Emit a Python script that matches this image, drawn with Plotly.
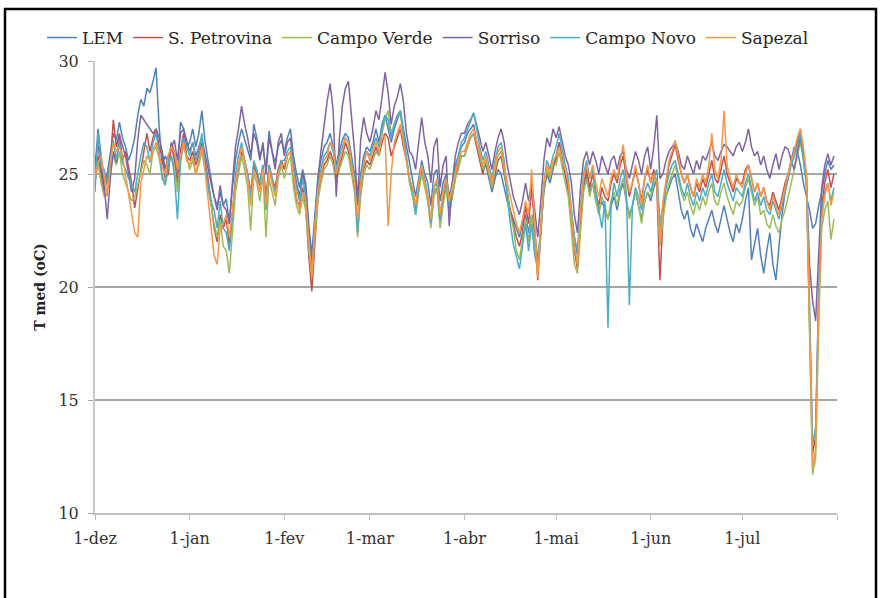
import pandas as pd
import plotly.graph_objects as go

START = "2012-12-01"

lem = [
    25.2, 27.0, 25.8, 24.6, 25.0, 26.0, 26.8, 26.5, 27.3, 26.6, 26.2, 25.6, 26.0, 26.6, 27.6, 28.3, 28.0, 28.8, 28.6, 29.1, 29.7, 27.1, 25.4, 25.8, 25.5, 26.4, 26.0, 25.0, 27.3, 27.0, 26.2,
    26.4, 27.0, 26.2, 26.8, 27.8, 26.5, 25.6, 24.8, 24.0, 23.6, 24.2, 23.6, 23.9, 22.8, 24.4, 25.6, 26.4, 27.0, 26.5, 26.0, 25.6, 27.2, 26.6, 25.8, 26.2, 25.2, 26.9, 26.0, 25.5, 26.2, 26.5,
    26.0, 26.6, 27.0, 25.8, 25.0, 24.4, 25.2, 24.6, 22.8, 21.4, 23.2, 24.8, 25.6, 26.2, 26.4, 26.8, 26.2, 25.4, 26.0, 26.5, 26.8, 26.6, 25.8, 25.0, 23.6, 25.0, 25.8, 26.2,
    26.0, 26.4, 27.0, 26.4, 27.2, 27.6, 27.0, 26.4, 27.0, 27.4, 27.8, 27.0, 26.2, 25.4, 24.8, 24.0, 24.8, 25.6, 25.0, 24.6, 23.6, 25.0, 25.2, 23.8, 24.6, 25.0, 24.0, 24.6, 25.4, 25.8, 26.2,
    26.4, 26.8, 27.0, 27.2, 26.4, 25.8, 25.2, 25.4, 24.8, 24.2, 24.8, 25.2, 25.0, 24.4, 23.8, 23.4, 23.0, 22.6, 22.2, 22.8, 23.2, 22.4, 23.2, 22.4, 21.2, 22.6, 24.2, 25.0, 24.6, 25.2,
    25.8, 26.4, 25.6, 25.0, 24.2, 23.4, 22.2, 21.4, 23.2, 24.4, 25.0, 24.2, 24.6, 23.8, 23.4, 23.8, 23.4, 23.0, 23.6, 24.0, 23.4, 24.2, 24.6, 23.8, 23.2, 23.6, 24.2, 23.6, 23.0, 23.8, 24.2,
    23.8, 24.4, 24.8, 22.6, 23.2, 24.0, 24.4, 24.8, 25.0, 24.2, 23.4, 23.0, 23.4, 22.6, 22.2, 22.8, 22.4, 22.0, 22.6, 23.0, 23.4, 22.8, 22.4, 23.0, 23.6, 23.0, 22.4, 22.0, 22.8, 22.4,
    23.0, 23.8, 24.4, 21.2, 22.0, 22.6, 21.4, 20.6, 21.6, 22.4, 21.0, 20.3, 21.8, 23.2, 24.2, 24.8, 25.6, 26.2, 26.0, 25.4, 24.6, 24.0, 23.4, 22.6, 22.8, 23.6, 24.2, 25.0, 25.6, 25.2, 25.4,
]

s_petrovina = [
    24.6, 25.8, 25.0, 24.2, 24.8, 25.4, 27.4, 26.2, 26.8, 25.6, 26.0, 25.2, 24.6, 23.5, 24.4, 25.3, 26.0, 26.8, 26.0, 26.6, 27.0, 26.2, 25.8, 24.8, 25.0, 26.3, 25.6, 24.6, 26.0, 26.8, 25.8,
    25.6, 26.0, 25.4, 25.8, 26.4, 25.6, 24.8, 23.8, 22.6, 22.0, 23.2, 22.6, 23.0, 21.8, 23.2, 24.6, 25.2, 26.0, 25.6, 25.0, 24.2, 25.4, 25.0, 24.5, 25.4, 24.0, 25.4, 24.8, 24.4, 25.2, 25.6,
    25.2, 25.8, 26.0, 24.8, 23.8, 23.6, 24.4, 23.6, 21.4, 19.8, 22.0, 24.0, 24.8, 25.4, 25.6, 26.0, 25.6, 24.8, 25.4, 25.8, 26.4, 26.0, 25.2, 24.4, 22.8, 24.4, 25.2, 25.6,
    25.4, 25.8, 26.2, 25.8, 26.4, 26.8, 26.6, 25.8, 26.2, 26.6, 27.0, 26.2, 25.6, 24.8, 24.2, 23.4, 24.4, 25.2, 24.6, 23.8, 22.8, 24.2, 24.4, 22.8, 23.8, 24.6, 23.4, 24.0, 24.8, 25.4, 25.8,
    25.8, 26.2, 26.6, 26.8, 26.2, 25.6, 25.0, 25.6, 25.0, 24.4, 25.0, 25.6, 25.8, 25.0, 24.2, 23.4, 22.8, 22.2, 21.8, 22.4, 23.6, 22.8, 24.4, 22.6, 20.3, 22.6, 24.4, 25.2, 24.8, 25.4,
    25.6, 26.4, 25.6, 25.0, 24.4, 23.0, 21.6, 20.8, 23.0, 24.6, 25.2, 24.4, 25.0, 24.2, 23.6, 24.4, 24.0, 23.8, 24.6, 25.0, 24.6, 25.4, 25.8, 24.8, 24.0, 24.6, 25.2, 24.6, 23.8, 24.8, 25.2,
    24.6, 25.2, 24.4, 20.3, 23.0, 24.6, 25.4, 25.8, 26.3, 25.6, 25.0, 24.6, 25.0, 24.4, 24.0, 24.6, 24.2, 24.8, 24.4, 25.0, 25.6, 24.8, 24.6, 25.2, 25.8, 25.0, 24.6, 24.2, 24.8, 24.6,
    24.6, 25.2, 25.4, 24.8, 24.2, 24.6, 24.0, 24.4, 23.8, 23.6, 24.2, 23.8, 23.4, 24.0, 24.6, 25.0, 25.6, 26.0, 26.4, 27.0, 26.0, 24.8, 18.6, 12.6, 13.4, 19.6, 23.6, 24.6, 25.2, 24.4, 25.0,
]

campo_verde = [
    24.8, 25.5, 24.6, 24.0, 24.2, 25.2, 25.8, 25.4, 26.0, 25.0, 24.6, 24.2, 23.8, 24.0, 24.5, 25.0, 25.6, 25.4, 25.0, 26.0, 26.2, 25.7, 25.0, 24.6, 25.4, 25.8, 25.3, 24.2, 25.6, 26.2, 25.8,
    25.2, 25.6, 25.0, 25.4, 26.0, 25.2, 24.4, 23.5, 22.8, 22.2, 23.0, 21.8, 21.6, 20.6, 22.6, 24.2, 25.0, 25.8, 25.2, 24.4, 22.5, 25.0, 24.6, 23.8, 25.0, 22.2, 24.8, 24.2, 23.6, 24.8, 25.4,
    24.8, 25.4, 25.8, 24.4, 23.6, 23.2, 24.0, 23.4, 21.6, 20.6, 22.2, 23.8, 24.6, 25.2, 25.4, 25.8, 25.4, 24.6, 25.2, 25.6, 26.0, 25.8, 25.0, 24.2, 22.2, 24.0, 25.0, 25.4,
    25.2, 25.6, 26.0, 25.8, 26.8, 27.4, 27.8, 26.8, 27.2, 27.6, 27.6, 26.8, 25.6, 24.6, 24.0, 23.2, 24.2, 25.0, 24.4, 23.8, 22.6, 24.0, 24.4, 22.6, 23.6, 24.4, 23.2, 24.0, 24.8, 25.2, 25.8,
    25.8, 26.2, 26.6, 26.8, 26.4, 25.8, 25.2, 25.6, 25.0, 24.4, 25.2, 25.8, 26.0, 25.2, 24.2, 23.2, 22.6, 21.6, 21.2, 22.2, 23.0, 22.0, 23.2, 21.8, 20.6, 22.4, 24.4, 25.2, 24.8, 25.4,
    25.4, 26.0, 25.2, 24.6, 24.0, 22.6, 21.0, 20.6, 22.6, 24.2, 24.8, 24.0, 24.6, 23.8, 23.2, 24.0, 23.6, 23.0, 23.8, 24.2, 23.6, 24.4, 24.8, 23.8, 23.0, 23.6, 24.2, 23.6, 22.8, 23.8, 24.2,
    24.0, 24.6, 24.8, 21.8, 23.0, 24.0, 24.6, 25.0, 25.4, 24.8, 24.2, 23.8, 24.2, 23.6, 23.2, 23.8, 23.4, 24.0, 23.6, 24.2, 24.6, 23.8, 23.6, 24.2, 24.6, 24.0, 23.6, 23.2, 23.8, 23.6,
    23.8, 24.4, 24.8, 24.2, 23.6, 24.0, 23.2, 23.4, 22.8, 22.6, 23.2, 22.7, 22.4, 23.0, 23.4, 24.0, 24.6, 25.2, 25.8, 26.4, 25.6, 24.4, 18.0, 11.7, 12.4, 18.4, 22.6, 23.4, 23.8, 22.1, 23.0,
]

sorriso = [
    25.5, 26.3, 25.2, 24.5, 23.0, 24.8, 26.0, 25.5, 26.7, 26.2, 25.8, 25.0, 24.2, 24.8, 26.5, 27.6, 27.4, 27.2, 27.0, 26.8, 27.0, 26.6, 26.0, 25.2, 25.8, 26.2, 26.5, 25.6, 26.8, 27.0, 26.5,
    26.0, 26.4, 25.8, 26.2, 26.6, 25.9, 25.2, 24.6, 24.0, 23.4, 24.5, 23.6, 23.4, 22.8, 24.6, 26.2, 27.0, 28.0, 27.2, 26.6, 25.8, 26.8, 26.4, 25.6, 26.4, 25.0, 26.6, 26.0, 25.2, 26.4, 26.8,
    25.8, 26.4, 26.6, 25.4, 24.6, 24.0, 25.0, 24.4, 22.4, 21.0, 23.0, 24.8, 26.0, 27.2, 28.2, 29.0, 27.8, 24.0, 26.5, 28.0, 28.8, 29.1, 27.5, 26.0, 23.8, 26.5, 27.5, 26.8,
    26.4, 27.0, 27.8, 27.4, 28.4, 29.5, 28.6, 27.2, 28.0, 28.4, 29.0, 28.2, 26.8, 26.0, 25.8, 25.2, 26.4, 27.5, 26.4, 25.8, 24.6, 26.2, 26.6, 24.4, 25.4, 25.8, 22.7, 24.6, 25.8, 26.4, 26.8,
    26.8, 27.2, 27.4, 27.7, 27.2, 26.6, 26.0, 26.4, 25.8, 25.2, 26.0, 26.6, 27.0, 26.4, 25.4, 24.6, 24.0, 23.6, 23.2, 23.8, 24.6, 23.8, 24.6, 23.4, 22.2, 23.8, 25.6, 26.6, 26.2, 27.0,
    26.6, 27.1, 26.4, 25.8, 25.4, 24.6, 23.2, 22.4, 24.4, 25.6, 26.0, 25.4, 26.0, 25.6, 25.0, 25.8, 25.4, 25.0, 25.6, 25.8, 25.2, 25.8, 26.0, 25.2, 24.8, 25.4, 26.0, 25.6, 25.0, 25.8, 26.2,
    25.2, 26.2, 27.6, 24.8, 25.0, 25.6, 26.0, 26.2, 26.4, 26.0, 25.4, 25.2, 25.8, 25.4, 25.0, 25.6, 25.2, 25.8, 25.6, 26.0, 26.4, 25.8, 25.6, 26.0, 26.3, 26.2, 26.0, 25.8, 26.2, 26.4,
    26.0, 26.4, 27.0, 26.2, 25.8, 26.0, 25.4, 25.8, 25.2, 24.8, 25.4, 25.9, 25.2, 25.8, 26.2, 26.1, 25.6, 25.2, 26.0, 26.6, 25.8, 24.8, 21.0, 19.4, 18.5, 21.5, 24.4, 25.4, 25.9, 25.4, 25.8,
]

campo_novo = [
    24.2, 26.8, 25.4, 25.2, 24.6, 25.6, 26.5, 25.6, 26.4, 25.5, 25.2, 24.8, 24.5, 24.2, 25.0, 25.8, 26.4, 26.2, 25.5, 26.4, 26.8, 26.0, 24.8, 24.5, 25.5, 25.8, 25.0, 23.0, 25.5, 26.6, 26.2,
    25.8, 26.4, 25.6, 26.0, 26.8, 25.4, 24.6, 23.8, 23.4, 22.6, 23.8, 22.6, 22.4, 21.6, 23.2, 25.0, 25.8, 26.4, 25.6, 25.0, 24.0, 25.6, 25.2, 24.6, 25.4, 23.4, 25.4, 24.8, 24.2, 25.0, 25.6,
    25.6, 26.0, 26.2, 25.2, 24.4, 23.8, 24.8, 24.0, 22.0, 20.8, 22.6, 24.4, 25.2, 25.8, 26.0, 26.4, 26.0, 25.2, 25.8, 26.2, 26.6, 26.4, 25.6, 24.8, 22.4, 24.8, 25.6, 26.0,
    25.8, 26.2, 26.6, 26.2, 27.0, 27.6, 27.4, 26.6, 27.2, 27.6, 27.8, 26.8, 25.8, 24.8, 24.2, 23.2, 24.4, 25.4, 24.8, 24.0, 22.8, 24.4, 24.6, 23.0, 24.2, 24.8, 23.6, 24.4, 25.2, 25.8, 26.4,
    26.6, 27.0, 27.4, 27.7, 27.0, 26.2, 25.6, 26.0, 25.4, 24.8, 25.6, 26.2, 26.4, 25.6, 24.0, 22.8, 21.9, 21.4, 20.8, 21.8, 22.8, 21.6, 22.8, 21.4, 20.8, 22.6, 24.6, 25.6, 25.2, 25.8,
    26.2, 26.8, 26.0, 25.4, 24.8, 23.6, 22.2, 21.6, 23.6, 25.0, 25.6, 24.8, 25.2, 24.2, 23.4, 22.6, 23.8, 18.2, 23.6, 24.6, 24.0, 24.8, 25.2, 24.2, 19.2, 23.6, 24.4, 24.0, 23.4, 24.2, 24.6,
    24.2, 24.8, 25.2, 22.8, 23.6, 24.4, 25.0, 25.4, 25.6, 25.0, 24.4, 24.0, 24.6, 24.0, 23.6, 24.2, 23.8, 24.4, 24.0, 24.6, 25.0, 24.2, 24.0, 24.6, 25.2, 24.6, 24.2, 23.8, 24.4, 24.2,
    24.0, 24.6, 25.0, 24.4, 23.8, 24.2, 23.6, 24.0, 23.4, 23.2, 23.8, 23.4, 23.0, 23.6, 24.2, 24.8, 25.4, 25.8, 26.2, 26.8, 25.8, 24.6, 19.4, 13.0, 13.8, 19.8, 23.4, 24.2, 24.6, 23.8, 24.4,
]

sapezal = [
    24.8, 25.5, 25.8, 24.8, 24.0, 25.4, 26.4, 26.0, 26.2, 25.8, 25.0, 24.0, 23.2, 22.4, 22.2, 24.6, 25.2, 25.8, 25.6, 26.0, 26.4, 25.8, 25.3, 25.0, 25.8, 26.2, 26.0, 25.2, 25.8, 26.4, 25.6,
    25.4, 25.8, 25.0, 25.6, 26.2, 25.2, 24.0, 22.6, 21.4, 21.0, 22.6, 22.8, 23.2, 22.2, 23.4, 24.6, 25.4, 26.2, 25.6, 24.8, 23.6, 25.2, 24.8, 24.2, 25.2, 23.6, 25.2, 24.6, 24.0, 25.0, 25.4,
    25.4, 25.8, 26.0, 25.0, 24.0, 23.4, 24.2, 23.8, 22.0, 20.4, 22.8, 24.2, 25.0, 25.6, 25.8, 26.4, 26.2, 25.0, 25.6, 26.0, 26.6, 26.4, 25.4, 24.6, 23.0, 24.6, 25.4, 26.0,
    25.6, 26.0, 26.4, 26.0, 26.8, 26.6, 22.7, 25.0, 26.4, 26.8, 27.2, 26.4, 25.6, 24.8, 24.4, 23.6, 24.6, 25.4, 24.6, 24.0, 23.0, 24.4, 24.8, 23.2, 24.2, 24.8, 23.8, 24.4, 25.0, 25.6, 26.0,
    26.0, 26.4, 26.8, 27.0, 26.4, 26.0, 25.4, 25.8, 25.2, 24.6, 25.4, 26.0, 26.2, 25.4, 24.6, 24.0, 23.4, 22.8, 22.4, 23.0, 23.8, 23.2, 25.2, 23.0, 20.4, 22.8, 24.6, 25.4, 25.0, 25.6,
    25.8, 26.2, 25.6, 25.2, 24.6, 23.2, 21.8, 21.0, 23.4, 24.8, 25.4, 24.8, 25.4, 24.6, 24.0, 24.8, 24.4, 24.0, 24.8, 25.2, 24.8, 25.6, 26.3, 25.0, 24.2, 24.6, 25.4, 24.6, 23.6, 24.8, 25.4,
    24.6, 25.0, 24.6, 22.0, 23.8, 24.8, 25.6, 26.0, 26.5, 25.8, 25.0, 24.6, 25.0, 24.4, 24.0, 24.8, 24.4, 25.0, 24.6, 25.4, 26.8, 25.2, 24.8, 25.6, 27.8, 25.4, 24.8, 24.4, 25.0, 24.6,
    24.4, 25.0, 25.4, 24.8, 24.2, 24.6, 24.0, 24.4, 23.8, 23.4, 24.0, 23.6, 23.2, 23.8, 24.4, 25.0, 25.6, 26.0, 26.6, 27.0, 26.2, 25.0, 18.2, 12.0, 12.8, 18.8, 23.0, 24.0, 24.6, 23.6, 24.2,
]

series_names = ["LEM", "S. Petrovina", "Campo Verde", "Sorriso", "Campo Novo", "Sapezal"]
series_values = [lem, s_petrovina, campo_verde, sorriso, campo_novo, sapezal]
series_colors = ["#4F81BD", "#C0504D", "#9BBB59", "#8064A2", "#4BACC6", "#F79646"]

tick_dates = ["2012-12-01", "2013-01-01", "2013-02-01", "2013-03-01", "2013-04-01",
              "2013-05-01", "2013-06-01", "2013-07-01", "2013-08-01"]
tick_labels = ["1-dez", "1-jan", "1-fev", "1-mar", "1-abr", "1-mai", "1-jun", "1-jul", ""]

SERIF = "DejaVu Serif"

fig = go.Figure()
for name, vals, col in zip(series_names, series_values, series_colors):
    dates = pd.date_range(START, periods=len(vals), freq="D")
    fig.add_trace(go.Scatter(x=dates, y=vals, mode="lines", name=name,
                             line=dict(color=col, width=1.5)))

W, H = 880, 598
L, R, T, B = 95, 43, 61, 85
pw, ph = W - L - R, H - T - B

def px_x(x):
    return (x - L) / pw

def px_y(y):
    return (H - B - y) / ph

fig.update_layout(
    width=W, height=H,
    margin=dict(l=L, r=R, t=T, b=B, pad=0),
    paper_bgcolor="white", plot_bgcolor="white",
    font=dict(family=SERIF, size=16, color="#333333"),
    legend=dict(orientation="h", x=px_x(42), y=px_y(20), xanchor="left", yanchor="top",
                font=dict(family=SERIF, size=17, color="#262626"),
                bgcolor="rgba(0,0,0,0)", itemwidth=30, tracegroupgap=0),
    xaxis=dict(
        range=["2012-12-01", "2013-08-01"],
        tickmode="array", tickvals=tick_dates, ticktext=tick_labels,
        showgrid=False, showline=True, linecolor="#bfbfbf", linewidth=2,
        ticks="outside", ticklen=5, tickcolor="#bfbfbf", tickwidth=1,
        ticklabelstandoff=5,
        tickfont=dict(family=SERIF, size=16, color="#333333"),
        zeroline=False,
    ),
    yaxis=dict(
        range=[10, 30], tickmode="linear", tick0=10, dtick=5,
        showgrid=True, gridcolor="#a6a6a6", gridwidth=1.5,
        showline=True, linecolor="#c8c8c8", linewidth=2,
        ticks="outside", ticklen=5, tickcolor="#a6a6a6",
        ticklabelstandoff=6,
        tickfont=dict(family=SERIF, size=16, color="#333333"),
        title=dict(text="<b>T med (oC)</b>", font=dict(family=SERIF, size=14, color="#222222"), standoff=10),
        zeroline=False,
    ),
    showlegend=True,
)

# outer black frame of the figure
fig.add_shape(type="rect", xref="paper", yref="paper",
              x0=px_x(5), x1=px_x(876), y0=px_y(610), y1=px_y(9),
              line=dict(color="black", width=2.5), fillcolor="rgba(0,0,0,0)", layer="above")

fig.write_html("out.html")
